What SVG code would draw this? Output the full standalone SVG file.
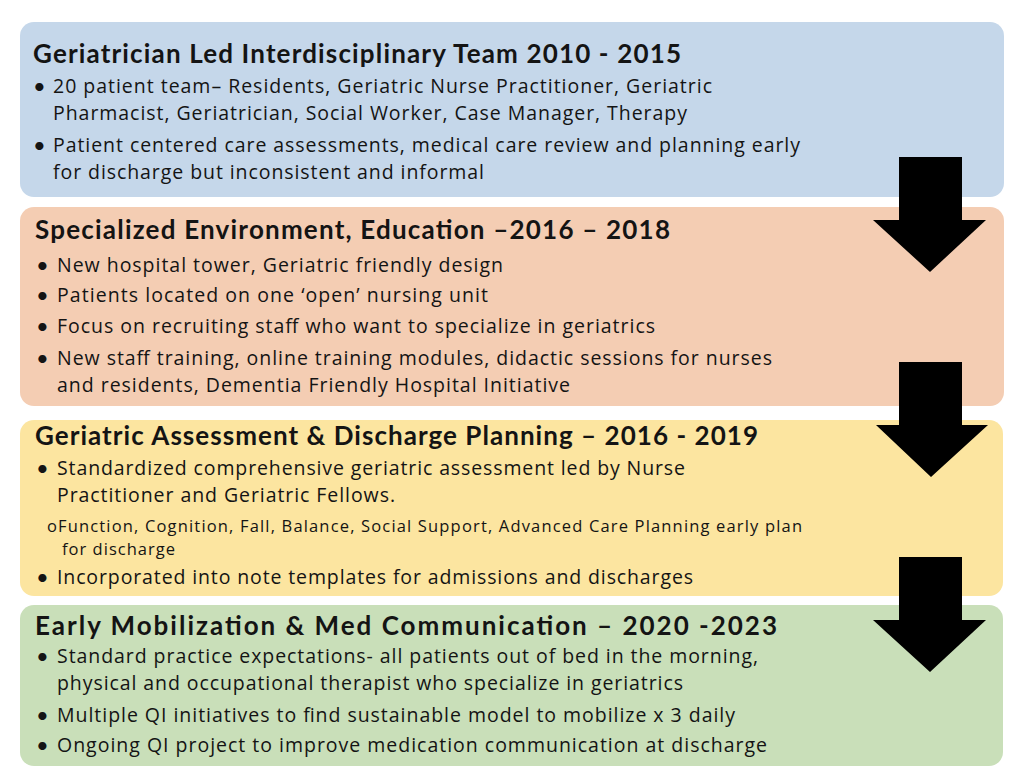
<svg xmlns="http://www.w3.org/2000/svg" width="1032" height="784" viewBox="0 0 1032 784">
<style>
.box{stroke:none}
.t{font-family:Lato,"Open Sans","Liberation Sans",sans-serif;font-weight:700;font-size:26px;fill:#141414}
.b{font-family:"Open Sans","Noto Sans","Liberation Sans",sans-serif;font-size:19.5px;font-weight:500;fill:#141414}
.s{font-family:"Open Sans","Noto Sans","Liberation Sans",sans-serif;font-size:16.5px;font-weight:500;fill:#141414}
.d{font-family:Lato,"Liberation Sans",sans-serif;font-size:22px;fill:#141414}
.arr{fill:#000}
</style>
<rect width="1032" height="784" fill="#ffffff"/>
<g id="node-team">
<rect class="box" x="20" y="22" width="984" height="175" rx="14" fill="#c5d7ea"/>
<text class="t" x="33" y="63" textLength="648">Geriatrician Led Interdisciplinary Team 2010 - 2015</text>
<text class="d" x="33" y="94">•</text>
<text class="b" x="53" y="93" textLength="659">20 patient team– Residents, Geriatric Nurse Practitioner, Geriatric</text>
<text class="b" x="53" y="120" textLength="634">Pharmacist, Geriatrician, Social Worker, Case Manager, Therapy</text>
<text class="d" x="33" y="153">•</text>
<text class="b" x="53" y="152" textLength="747">Patient centered care assessments, medical care review and planning early</text>
<text class="b" x="53" y="179" textLength="431">for discharge but inconsistent and informal</text>
</g>
<g id="node-environment">
<rect class="box" x="20" y="207" width="984" height="199" rx="14" fill="#f4cdb3"/>
<text class="t" x="35" y="239" textLength="635">Specialized Environment, Education –2016 – 2018</text>
<text class="d" x="36" y="273">•</text>
<text class="b" x="57" y="272" textLength="446">New hospital tower, Geriatric friendly design</text>
<text class="d" x="36" y="303">•</text>
<text class="b" x="57" y="302" textLength="431">Patients located on one ‘open’ nursing unit</text>
<text class="d" x="36" y="334">•</text>
<text class="b" x="57" y="333" textLength="598">Focus on recruiting staff who want to specialize in geriatrics</text>
<text class="d" x="36" y="366">•</text>
<text class="b" x="57" y="365" textLength="715">New staff training, online training modules, didactic sessions for nurses</text>
<text class="b" x="57" y="392" textLength="513">and residents, Dementia Friendly Hospital Initiative</text>
</g>
<g id="node-assessment">
<rect class="box" x="20" y="420" width="983" height="176" rx="14" fill="#fce5a0"/>
<text class="t" x="35" y="445" textLength="723">Geriatric Assessment &amp; Discharge Planning – 2016 - 2019</text>
<text class="d" x="36" y="476">•</text>
<text class="b" x="57" y="475" textLength="628">Standardized comprehensive geriatric assessment led by Nurse</text>
<text class="b" x="57" y="502" textLength="338">Practitioner and Geriatric Fellows.</text>
<text class="s" x="47" y="532">o</text>
<text class="s" x="58" y="532" textLength="744">Function, Cognition, Fall, Balance, Social Support, Advanced Care Planning early plan</text>
<text class="s" x="62" y="555" textLength="113">for discharge</text>
<text class="d" x="36" y="585">•</text>
<text class="b" x="57" y="584" textLength="636">Incorporated into note templates for admissions and discharges</text>
</g>
<g id="node-mobilization">
<rect class="box" x="20" y="605" width="983" height="161" rx="14" fill="#c9dfb9"/>
<text class="t" x="35" y="635" textLength="742">Early Mobilization &amp; Med Communication – 2020 -2023</text>
<text class="d" x="36" y="664">•</text>
<text class="b" x="57" y="663" textLength="701">Standard practice expectations- all patients out of bed in the morning,</text>
<text class="b" x="57" y="690" textLength="626">physical and occupational therapist who specialize in geriatrics</text>
<text class="d" x="36" y="723">•</text>
<text class="b" x="57" y="722" textLength="678">Multiple QI initiatives to find sustainable model to mobilize x 3 daily</text>
<text class="d" x="36" y="753">•</text>
<text class="b" x="57" y="752" textLength="710">Ongoing QI project to improve medication communication at discharge</text>
</g>
<g id="connectors">
<polygon class="arr" points="899,157 962,157 962,220 986,220 930,272 873,220 899,220"/>
<polygon class="arr" points="899,362 962,362 962,425 988,425 931,477 876,425 899,425"/>
<polygon class="arr" points="899,557 962,557 962,620 986,620 930,672 873,620 899,620"/>
</g>
</svg>
